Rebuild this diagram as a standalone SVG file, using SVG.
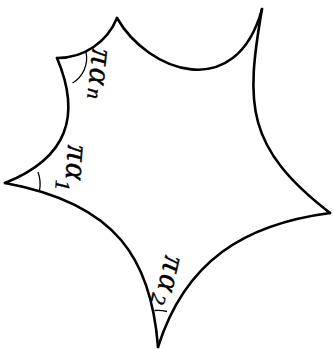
<svg xmlns="http://www.w3.org/2000/svg" width="334" height="349" viewBox="0 0 334 349">
<style>
.side{fill:none;stroke:#000;stroke-width:2.6;stroke-linecap:round;stroke-linejoin:round}
.ang{fill:none;stroke:#000;stroke-width:1.3}
.lbl{font-family:"Liberation Serif","Times New Roman",serif;font-style:italic;font-size:32px;fill:#000;stroke:#000;stroke-width:0.4}
.sub{font-size:21px}
</style>
<rect width="334" height="349" fill="#fff"/>
<g id="sides">
<path class="side" d="M57,58 A64,64 0 0 0 117,18"/>
<path class="side" d="M117,18 C148,72 236,104 262,9"/>
<path class="side" d="M262,9 C245.6,104 245,147.4 330,213"/>
<path class="side" d="M330,213 C244.2,224.3 185.2,261 158,347"/>
<path class="side" d="M158,347 C151.3,259.8 117.1,203.6 5,183"/>
<path class="side" d="M5,183 C67.3,158.2 81.6,116.1 57,58"/>
</g>
<g id="angles">
<path class="ang" d="M86,52 A29,29 0 0 1 72.5,83"/>
<path class="ang" d="M38,172 A35,35 0 0 1 39.5,190.5"/>
<path class="ang" d="M154.5,310.5 A37,37 0 0 1 167,311.5"/>
</g>
<g id="labels">
<text class="lbl" transform="translate(99,57) rotate(96)" text-anchor="middle"><tspan x="0" y="7.5">π</tspan><tspan x="19.5" y="7.5">α</tspan><tspan class="sub" x="37" y="7.5">n</tspan></text>
<text class="lbl" transform="translate(75,153) rotate(94)" text-anchor="middle"><tspan x="0" y="7.5">π</tspan><tspan x="18.5" y="7.5">α</tspan><tspan class="sub" x="33" y="17">1</tspan></text>
<text class="lbl" transform="translate(171,264) rotate(103)" text-anchor="middle"><tspan x="0" y="7.5">π</tspan><tspan x="19.5" y="7.5">α</tspan><tspan class="sub" x="37" y="11.5">2</tspan></text>
</g>
</svg>
